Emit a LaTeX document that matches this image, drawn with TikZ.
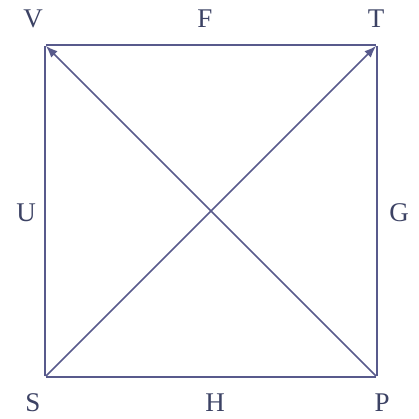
\documentclass[tikz,border=0pt]{standalone}
\usepackage{fontspec}
\setmainfont{Liberation Serif}
\usepackage{xcolor}
\usepackage{tikz}
\usetikzlibrary{arrows.meta,positioning}
\definecolor{edgecol}{RGB}{88,90,140}
\definecolor{labcol}{RGB}{60,66,100}

\begin{document}
\begin{tikzpicture}[>={Latex[length=12pt,width=9pt]}, x=1pt, y=-1pt, line width=1.7pt,
  every node/.style={font=\fontsize{27}{29}\selectfont, text=labcol, inner sep=1pt},
  corner/.style={inner sep=0pt, minimum size=0pt}]
  \useasboundingbox (0,0) rectangle (419,418);
  \node (V) [corner] at (45,45) {};
  \node (T) [corner] at (377,45) {};
  \node (S) [corner] at (45,377) {};
  \node (P) [corner] at (377,377) {};
  \node (vl) at (33,19) {V};
  \node (tl) at (376,19) {T};
  \node (sl) at (33,403) {S};
  \node (pl) at (382,403) {P};
  \node (fl) at (205,19) {F};
  \node (ul) at (26,213) {U};
  \node (gl) at (399,213) {G};
  \node (hl) at (215,403) {H};
  \draw[edgecol] (V) -- (T) -- (P) -- (S) -- (V);
  \draw[edgecol, ->] (S) -- (T);
  \draw[edgecol, ->] (P) -- (V);
\end{tikzpicture}
\end{document}
